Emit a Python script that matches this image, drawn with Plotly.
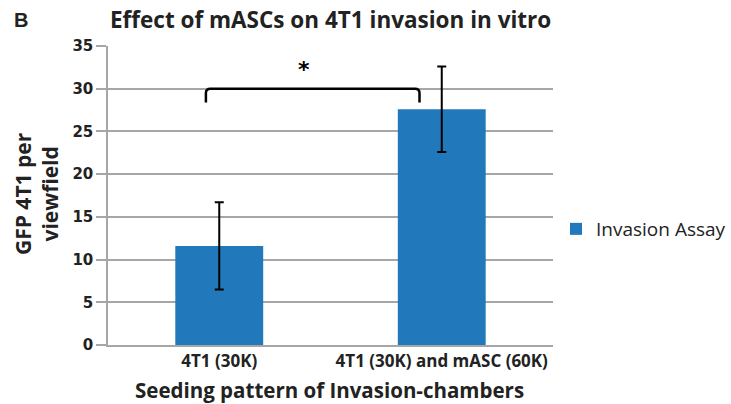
import plotly.graph_objects as go

categories = ["4T1 (30K)", "4T1 (30K) and mASC (60K)"]
values = [11.6, 27.6]
errors = [5.1, 5.0]
series_name = "Invasion Assay"
y_ticks = [0, 5, 10, 15, 20, 25, 30, 35]

xpos = list(range(len(categories)))
bar_color = "#2178ba"
grid_color = "#a6a6a6"
text_color = "#222222"

# plot-area edges in page pixels
PL, PR, PT, PB = 108, 553, 46, 345
W, H = 731, 404


def px_x(px):
    return (px - PL) / (PR - PL)


def px_y(py):
    return (PB - py) / (PB - PT)


fig = go.Figure()
fig.add_trace(go.Bar(
    x=xpos, y=values, name=series_name, width=0.395,
    marker=dict(color=bar_color, line=dict(width=0)),
    error_y=dict(type="data", array=errors, visible=True, color="black", thickness=2, width=4.5),
    showlegend=True,
))

# significance bracket
x0, x1, ylo, yhi = -0.06, 0.90, 28.4, 30.0
rx, ry = 0.02, 0.5
path = (f"M {x0},{ylo} L {x0},{yhi-ry} Q {x0},{yhi} {x0+rx},{yhi} "
        f"L {x1-rx},{yhi} Q {x1},{yhi} {x1},{yhi-ry} L {x1},{ylo}")
fig.add_shape(type="path", path=path, xref="x", yref="y", line=dict(color="black", width=2.5))

fig.add_annotation(x=0.38, y=32.3, xref="x", yref="y", text="*", showarrow=False,
                   font=dict(family="DejaVu Sans", size=22, color="black", weight="bold"))

fig.update_layout(
    width=W, height=H,
    margin=dict(l=PL, r=W - PR, t=PT, b=H - PB, autoexpand=False),
    paper_bgcolor="white", plot_bgcolor="white",
    showlegend=True,
    legend=dict(x=px_x(556), y=px_y(229), xanchor="left", yanchor="middle",
                font=dict(family="Open Sans", size=19, color=text_color),
                itemwidth=30, bgcolor="rgba(0,0,0,0)"),
    bargap=0.6,
)
fig.update_xaxes(
    range=[-0.5, 1.5], tickvals=xpos, ticktext=categories,
    showgrid=False, showline=True, linecolor=grid_color, linewidth=1.5,
    ticks="", zeroline=False, automargin=False,
    tickfont=dict(family="Open Sans", size=17, color=text_color, weight="bold"),
)
fig.update_yaxes(
    range=[0, 35], tickvals=y_ticks, showgrid=True, gridcolor=grid_color, gridwidth=1.5,
    showline=True, linecolor=grid_color, linewidth=1.5,
    ticks="outside", ticklen=10, tickcolor=grid_color, tickwidth=1.5,
    zeroline=False, automargin=False,
    tickfont=dict(family="DejaVu Sans", size=15, color=text_color, weight="bold"),
)

fig.add_annotation(x=px_x(12), y=px_y(20), xref="paper", yref="paper", text="B", showarrow=False,
                   xanchor="left", yanchor="middle",
                   font=dict(family="Liberation Sans", size=20, color=text_color, weight="bold"))
fig.add_annotation(x=px_x(330), y=px_y(19), xref="paper", yref="paper",
                   text="Effect of mASCs on 4T1 invasion in vitro", showarrow=False,
                   xanchor="center", yanchor="middle",
                   font=dict(family="Open Sans", size=22.5, color=text_color, weight="bold"))
fig.add_annotation(x=px_x(329), y=px_y(390), xref="paper", yref="paper",
                   text="Seeding pattern of Invasion-chambers", showarrow=False,
                   xanchor="center", yanchor="middle",
                   font=dict(family="Open Sans", size=20.5, color=text_color, weight="bold"))
fig.add_annotation(x=px_x(36), y=px_y(194), xref="paper", yref="paper",
                   text="GFP 4T1 per<br>viewfield", showarrow=False, textangle=-90,
                   xanchor="center", yanchor="middle",
                   font=dict(family="Open Sans", size=21, color=text_color, weight="bold"))

fig.write_html("out.html", config={"displayModeBar": False},
               post_script="document.body.style.margin='0';")
